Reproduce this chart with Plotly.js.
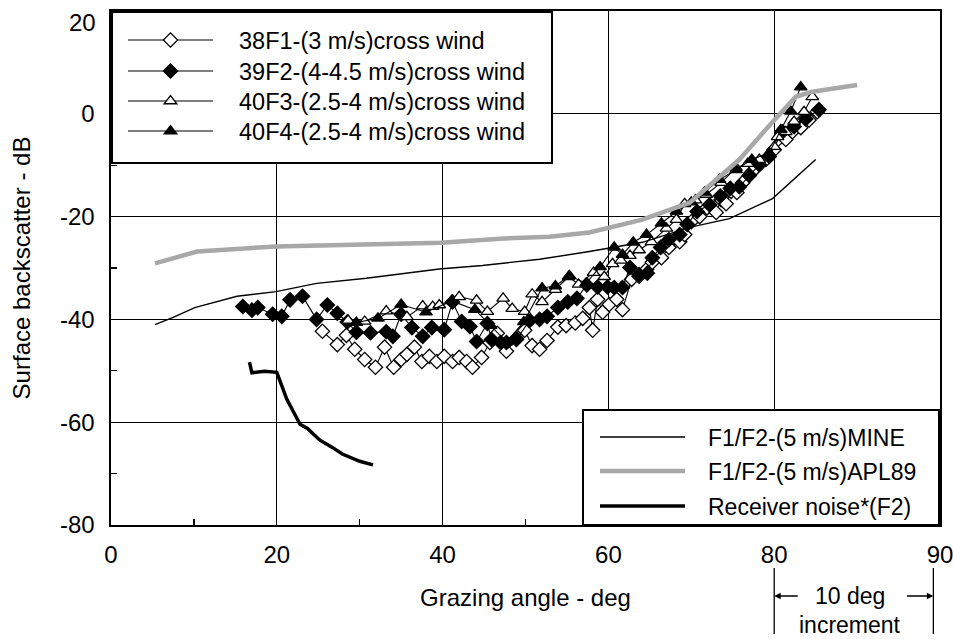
<!DOCTYPE html>
<html><head><meta charset="utf-8">
<script src="https://cdn.plot.ly/plotly-3.0.1.min.js"></script>
<style>html,body{margin:0;padding:0;background:#fff}#chart{width:953px;height:639px}</style>
</head><body><div id="chart"></div>
<script>
// ---- data (grazing angle in degrees, backscatter in dB) ----
const f1Name = '38F1-(3 m/s)cross wind';
const f1X = [25.5,27.3,28.4,29.4,30.6,31.9,33.0,34.1,35.0,35.7,36.6,37.5,38.4,39.3,40.2,41.2,42.0,42.9,43.6,44.7,45.7,46.6,47.7,48.9,49.9,50.8,51.7,52.6,53.9,54.9,56.0,56.9,57.7,58.1,58.7,59.3,60.1,61.0,61.7,62.8,63.7,64.6,65.3,66.4,67.3,68.6,69.2,70.0,71.0,71.9,73.0,73.6,74.2,74.8,75.5,76.2,77.2,77.8,79.0,80.0,80.7,81.1,81.6,82.1,82.6];
const f1Y = [-42.3,-44.9,-43.1,-45.8,-47.8,-49.3,-45.4,-49.3,-47.8,-46.8,-45.4,-48.2,-47.2,-48.2,-47.2,-48.2,-47.4,-48.2,-49.3,-47.4,-44.5,-42.7,-46.2,-43.7,-42.1,-45.1,-45.8,-44.1,-41.5,-41.2,-40.7,-39.8,-37.7,-42.1,-36.1,-38.6,-37.1,-36.1,-38.1,-32.2,-31.6,-30.3,-28.9,-28.0,-26.0,-24.9,-23.5,-21.0,-20.0,-18.3,-19.2,-16.7,-17.5,-15.1,-15.3,-13.4,-11.5,-10.5,-8.9,-7.0,-5.0,-3.5,-2.7,-1.2,0.4];

const f2Name = '39F2-(4-4.5 m/s)cross wind';
const f2X = [15.9,17.0,17.7,19.5,20.6,21.6,23.1,24.8,26.1,27.3,28.5,29.6,31.3,33.2,34.0,35.0,36.3,37.6,38.7,40.2,41.2,42.3,43.3,44.1,45.4,45.9,47.0,47.7,48.9,50.5,51.7,52.6,53.9,55.1,56.2,57.4,58.7,59.9,60.7,61.7,62.6,63.7,64.7,65.3,66.3,67.3,68.6,69.5,70.7,72.2,73.5,74.7,75.8,77.0,78.2,79.4,80.5,81.2,81.9,82.7];
const f2Y = [-37.5,-38.2,-37.7,-39.0,-39.4,-36.2,-35.5,-40.0,-37.2,-38.8,-40.5,-42.5,-42.6,-42.4,-43.3,-39.0,-41.6,-43.3,-41.6,-42.0,-36.6,-40.4,-41.4,-44.3,-40.8,-43.9,-44.5,-44.5,-43.9,-40.2,-40.0,-39.4,-37.7,-36.6,-35.9,-33.3,-33.7,-33.7,-33.8,-33.8,-29.9,-31.3,-31.0,-28.0,-26.0,-24.5,-23.5,-21.5,-19.0,-17.7,-16.0,-14.5,-14.2,-12.0,-9.9,-8.3,-3.5,-2.5,-1.0,0.8];

const f3Name = '40F3-(2.5-4 m/s)cross wind';
const f3X = [28.6,30.6,33.2,35.7,37.6,38.8,39.6,42.0,44.1,45.4,47.3,48.4,49.9,50.8,52.0,53.6,55.2,56.4,58.2,59.5,60.5,61.5,62.6,63.7,65.2,67.0,68.2,69.2,70.5,71.8,73.6,75.4,76.8,78.2,80.0,80.2,80.7,81.2,81.8,82.3];
const f3Y = [-40.2,-40.4,-38.4,-39.5,-37.4,-37.5,-37.2,-35.6,-36.3,-38.5,-35.9,-37.9,-38.5,-35.1,-36.6,-34.2,-31.7,-33.2,-30.9,-31.7,-29.2,-28.5,-27.6,-26.5,-24.9,-22.3,-20.6,-17.5,-16.8,-15.7,-13.4,-10.5,-9.7,-8.9,-6.4,-4.5,-3.5,-1.5,0.4,3.3];

const f4Name = '40F4-(2.5-4 m/s)cross wind';
const f4X = [29.6,32.2,35.0,38.0,41.1,43.9,45.8,47.7,49.8,52.0,53.6,55.3,57.3,59.0,60.7,61.7,63.0,64.6,66.4,68.2,70.0,71.6,73.4,75.4,77.3,79.4,80.4,81.0,81.6];
const f4Y = [-40.6,-39.8,-37.1,-38.6,-36.4,-38.1,-41.2,-44.4,-40.5,-33.9,-33.5,-31.5,-33.0,-29.8,-26.0,-27.4,-25.0,-23.5,-21.3,-19.0,-17.2,-15.3,-12.8,-10.9,-8.9,-7.6,-3.1,0.5,5.2];

const mineName = 'F1/F2-(5 m/s)MINE';
const mineX = [5.3,7.5,10.1,15.2,19.9,24.8,30.8,39.6,44.8,51.7,57.7,64.1,69.8,74.6,79.8,82.5];
const mineY = [-41.0,-39.6,-37.7,-35.5,-34.6,-33.0,-32.0,-30.2,-29.5,-28.3,-26.8,-25.0,-22.1,-20.4,-16.5,-8.9];

const aplName = 'F1/F2-(5 m/s)APL89';
const aplX = [5.3,10.4,19.9,30.8,39.8,46.9,52.9,57.7,64.1,69.8,73.0,75.8,79.8,81.3,82.3,85.0];
const aplY = [-29.1,-26.8,-25.8,-25.3,-25.1,-24.3,-23.9,-23.1,-20.6,-17.3,-12.8,-8.9,-1.6,3.3,4.3,5.6];

const noiseName = 'Receiver noise*(F2)';
const noiseX = [16.7,17.0,18.5,20.0,21.2,22.8,23.7,25.2,26.7,27.9,30.0,31.6];
const noiseY = [-48.3,-50.4,-50.1,-50.3,-55.5,-60.4,-61.2,-63.5,-64.9,-66.2,-67.6,-68.3];

// axis ticks: the last interval (80-90) is drawn with twice the scale
const xTickVals = [0,20,40,60,80,90];
const yTickVals = [20,0,-20,-40,-60,-80];

// ---- axis mapping ----
function tx(x){ return x <= 80 ? x : 80 + 2*(x - 80); }
const mapX = arr => arr.map(tx);

const FONT = 'Liberation Sans, Arial, Helvetica, sans-serif';

function markerTrace(name, xs, ys, symbol, fill, size){
  return {x: mapX(xs), y: ys, name: name, type:'scatter', mode:'lines+markers',
    legend:'legend', line:{color:'black', width:1.1},
    marker:{symbol:symbol, size:size, color:fill, line:{color:'black', width:1.3}},
    hoverinfo:'skip'};
}

const traces = [
  markerTrace(f1Name, f1X, f1Y, 'diamond', 'white', 11),
  markerTrace(f2Name, f2X, f2Y, 'diamond', 'black', 11),
  markerTrace(f3Name, f3X, f3Y, 'triangle-up', 'white', 11),
  markerTrace(f4Name, f4X, f4Y, 'triangle-up', 'black', 11),
  {x: mapX(mineX), y: mineY, name: mineName, type:'scatter', mode:'lines', legend:'legend2',
    line:{color:'black', width:1.4}, hoverinfo:'skip'},
  {x: mapX(aplX), y: aplY, name: aplName, type:'scatter', mode:'lines', legend:'legend2',
    line:{color:'#a8a8a8', width:4.5}, hoverinfo:'skip'},
  {x: mapX(noiseX), y: noiseY, name: noiseName, type:'scatter', mode:'lines', legend:'legend2',
    line:{color:'black', width:3.5}, hoverinfo:'skip'}
];

const L = 111, R = 13, T = 11, B = 114;
const W = 953, H = 639;
const pw = W - L - R, ph = H - T - B;
const py = p => (H - B - p) / ph;   // pixel y -> paper y
const pxp = p => (p - L) / pw;      // pixel x -> paper x

const layout = {
  width: W, height: H,
  margin: {l:L, r:R, t:T, b:B},
  paper_bgcolor:'white', plot_bgcolor:'white',
  font: {family: FONT, color:'black', size:24},
  showlegend: true,
  xaxis: {
    range:[0,100], tickmode:'array', tickvals: xTickVals.map(tx), ticktext: xTickVals.map(String),
    showgrid:true, gridcolor:'black', gridwidth:1.3, zeroline:false,
    showline:true, mirror:true, linecolor:'black', linewidth:1.6,
    ticks:'', ticklabelstandoff: 8, tickfont:{size:24}, ticklabeloverflow:'allow',
    minor:{tickmode:'array', tickvals:[10,30,50,70], ticks:'inside', ticklen:6, tickcolor:'black', tickwidth:1.2, showgrid:false},
    title:{text:'Grazing angle - deg', font:{size:24}, standoff: 22},
    fixedrange:true
  },
  yaxis: {
    range:[-80,20], tickmode:'array', tickvals: yTickVals,
    ticktext: yTickVals.map(v => v === 20 ? '' : String(v)),
    showgrid:true, gridcolor:'black', gridwidth:1.3, zeroline:false,
    showline:true, mirror:true, linecolor:'black', linewidth:1.6,
    ticks:'', ticklabelstandoff: 10, tickfont:{size:24}, ticklabeloverflow:'allow',
    minor:{tickmode:'array', tickvals:[10,-10,-30,-50,-70], ticks:'inside', ticklen:6, tickcolor:'black', tickwidth:1.2, showgrid:false},
    title:{text:'Surface backscatter - dB', font:{size:24}, standoff: 22},
    fixedrange:true
  },
  legend: {x:0, y:1, xanchor:'left', yanchor:'top', bgcolor:'white', bordercolor:'black', borderwidth:1.5,
    font:{size:23.5, family:FONT}, itemwidth:100, tracegroupgap:0, itemclick:false, itemdoubleclick:false},
  legend2: {x:pxp(582), y:py(409), xanchor:'left', yanchor:'top', bgcolor:'white', bordercolor:'black', borderwidth:1.5,
    font:{size:23, family:FONT}, itemwidth:100, tracegroupgap:0, itemclick:false, itemdoubleclick:false},
  shapes: [
    {type:'line', xref:'x', yref:'paper', x0:tx(80), x1:tx(80), y0:py(568), y1:py(634), line:{color:'black', width:1.3}},
    {type:'line', xref:'x', yref:'paper', x0:99.2, x1:99.2, y0:py(568), y1:py(634), line:{color:'black', width:1.3}}
  ],
  annotations: [
    {xref:'paper', yref:'paper', x:pxp(98), y:py(22), xanchor:'right', yanchor:'middle', text:String(yTickVals[0]), showarrow:false, font:{size:24}},
    {xref:'x', yref:'paper', x:tx(80), y:py(596), ax:25, ay:0, text:'', showarrow:true, arrowhead:2, arrowsize:1, arrowwidth:1.3, arrowcolor:'black'},
    {xref:'x', yref:'paper', x:99.2, y:py(596), ax:-28, ay:0, text:'', showarrow:true, arrowhead:2, arrowsize:1, arrowwidth:1.3, arrowcolor:'black'},
    {xref:'x', yref:'paper', x:89.1, y:py(596), yanchor:'middle', text:'10 deg', showarrow:false, font:{size:23}},
    {xref:'x', yref:'paper', x:89.1, y:py(625), yanchor:'middle', text:'increment', showarrow:false, font:{size:23}}
  ]
};

// place legend items like the reference (long sample lines, fixed box)
function fixLegend(gd, cls, o){
  const lg = gd.querySelector('g.infolayer > g.' + cls);
  if(!lg) return;
  const sb = lg.querySelector('g.scrollbox');
  if(sb) sb.removeAttribute('clip-path');
  const items = lg.querySelectorAll('g.traces');
  items.forEach((tr, i) => {
    tr.setAttribute('transform', 'translate(0,' + o.rows[i] + ')');
    const t = tr.querySelector('text');
    if(t){
      t.removeAttribute('transform');
      let bx = 0;
      try { bx = t.getBBox().x; } catch(e) { bx = parseFloat(t.getAttribute('x')) || 0; }
      t.setAttribute('transform', 'translate(' + (o.textX - bx) + ',0)');
    }
    tr.querySelectorAll('g.legendlines path').forEach(p => p.setAttribute('d', 'M' + o.l0 + ',0H' + o.l1));
    tr.querySelectorAll('path.scatterpts').forEach(p => p.setAttribute('transform', 'translate(' + ((o.l0 + o.l1)/2) + ',0)'));
  });
  const bg = lg.querySelector('rect.bg');
  if(bg){ bg.setAttribute('x', 0.75); bg.setAttribute('y', 0.75); bg.setAttribute('width', o.w); bg.setAttribute('height', o.h); }
}

function fixAll(gd){
  fixLegend(gd, 'legend',  {textX:128, l0:17, l1:102, rows:[29, 60, 90, 120], w:440, h:151});
  fixLegend(gd, 'legend2', {textX:126, l0:18, l1:103, rows:[28, 62, 97], w:356, h:115});
}

Plotly.newPlot('chart', traces, layout, {staticPlot:true, displayModeBar:false, responsive:false}).then(gd => {
  fixAll(gd);
  gd.on('plotly_afterplot', () => fixAll(gd));
  requestAnimationFrame(() => fixAll(gd));
  [30, 120, 400, 1000].forEach(ms => setTimeout(() => fixAll(gd), ms));
});
</script>
</body></html>
